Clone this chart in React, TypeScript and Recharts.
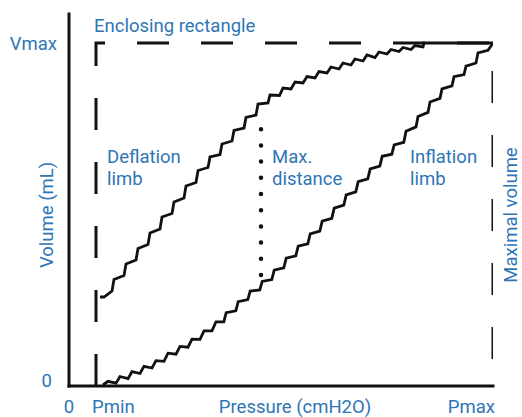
import React from "react";
import { ComposedChart, Line, XAxis, YAxis } from "recharts";

// pressure / volume in plot units (Pmin, Pmax and Vmax are symbolic)
const P_MIN = 27;
const P_MAX = 424;
const V_MAX = 343;
const V_TOP = 372;

const xTicks = [0, P_MIN, P_MAX];
const xTickLabels = ["0", "Pmin", "Pmax"];
const yTicks = [0, V_MAX];
const yTickLabels = ["0", "Vmax"];

// enclosing rectangle (left side, top, right side)
const rectP = [P_MIN, P_MIN, P_MAX, P_MAX];
const rectV = [0, V_MAX, V_MAX, 0];

// deflation limb, read point by point (jagged trace)
const deflationP = [31, 35, 43, 45, 55, 57, 67, 69, 79, 81, 91, 93, 103, 105, 115, 117, 127, 129, 139, 141, 151, 153, 163, 165, 175, 177, 187, 189, 199, 201, 210.5, 214, 222, 226, 234, 238, 246, 250, 258, 262, 270, 274, 282, 286, 294, 298, 306, 310, 318, 322, 330, 334, 342, 346, 354, 355, 424];
const deflationV = [89, 89, 95, 106.5, 110.5, 122, 126, 137.5, 141.5, 153, 157, 169, 172.5, 184, 188, 200, 203.5, 215.5, 218.5, 229, 231.5, 242, 245, 255.5, 258, 268.5, 271, 282, 283, 291, 290.5, 298, 297, 304, 303, 309.5, 308, 314.5, 313, 319, 317, 323, 321, 327, 325, 331, 328.5, 334, 332, 336.5, 334.5, 338.5, 336.5, 340.5, 339, 343, 343];

// inflation limb
const inflationP = [34, 39, 47, 51, 59, 63, 71, 75, 83, 87, 95, 99, 107, 111, 119, 123, 131, 135, 143, 147, 154.8, 157.2, 166.8, 169.2, 178.8, 181.2, 190.8, 193.2, 202.8, 205.2, 214.8, 217.2, 226.8, 229.2, 238.8, 241.2, 250.8, 253.2, 262.8, 265.2, 274.8, 277.2, 286.8, 289.2, 298.8, 301.2, 310.8, 313.2, 322.8, 325.2, 334.8, 337, 347, 349, 359, 361, 371, 373, 383, 385, 395, 397, 407, 409, 419, 424];
const inflationV = [1, 4.7, 2.8, 9.5, 7.4, 14.3, 12.5, 19.6, 18, 25.4, 24.7, 32.8, 31.8, 39.6, 38.8, 46.9, 46.6, 55.1, 55.2, 64.2, 64.2, 73.3, 75.2, 84.4, 86.4, 94.9, 96, 104.6, 106.5, 115.8, 118.2, 127.8, 130.2, 139.8, 142.2, 152.1, 154.8, 164.8, 167.7, 177.9, 180.9, 191.1, 194.1, 204.3, 207.2, 217.1, 219.8, 229.7, 231.8, 241, 243.7, 254.7, 259.1, 269.6, 273.6, 284, 287.6, 297.1, 300.1, 309.4, 311.4, 319.9, 323, 333.2, 335.7, 343];

// dotted "max distance" segment
const maxDistP = [192, 192];
const maxDistV = [111, 273];

const BLUE = "#2e75b6";
const INK = "#111";
const FONT = "Roboto, 'Noto Sans', sans-serif";
const FS = 18.5;
const BOTTOM = 413;

const toRows = (ps: number[], vs: number[]) =>
  ps.map((p, i) => ({ p, v: vs[i] }));

const rectData = toRows(rectP, rectV);
const deflationData = toRows(deflationP, deflationV);
const inflationData = toRows(inflationP, inflationV);
const maxDistData = toRows(maxDistP, maxDistV);

const XTick = ({ x, payload }: any) => {
  const i = xTicks.indexOf(payload.value);
  const anchor = i === 0 ? "middle" : i === 1 ? "start" : "end";
  const dx = i === 1 ? -4 : i === 2 ? 2 : 0;
  return (
    <text x={x + dx} y={BOTTOM} textAnchor={anchor} fill={BLUE} fontSize={FS} fontFamily={FONT}>
      {xTickLabels[i]}
    </text>
  );
};

const YTick = ({ y, payload }: any) => {
  const i = yTicks.indexOf(payload.value);
  const tx = i === 0 ? 52 : 57;
  const dy = i === 0 ? 1 : 7;
  return (
    <text x={tx} y={y + dy} textAnchor="end" fill={BLUE} fontSize={FS} fontFamily={FONT}>
      {yTickLabels[i]}
    </text>
  );
};

const label = (x: number, y: number, s: string, extra: any = {}) => (
  <text x={x} y={y} fill={BLUE} fontSize={FS} fontFamily={FONT} {...extra}>
    {s}
  </text>
);

export default function App() {
  return (
    <div style={{ position: "absolute", left: 0, top: 0, width: 522, height: 417, background: "#fff" }}>
      <ComposedChart
        width={522}
        height={417}
        margin={{ top: 14, right: 29, bottom: 1, left: 9 }}
      >
        <XAxis
          type="number"
          dataKey="p"
          domain={[0, P_MAX]}
          ticks={xTicks}
          allowDataOverflow
          height={30}
          tickLine={false}
          axisLine={{ stroke: INK, strokeWidth: 3, strokeLinecap: "square" }}
          tick={<XTick />}
          interval={0}
        />
        <YAxis
          type="number"
          dataKey="v"
          domain={[0, V_TOP]}
          ticks={yTicks}
          allowDataOverflow
          width={60}
          tickLine={false}
          axisLine={{ stroke: INK, strokeWidth: 3, strokeLinecap: "square" }}
          tick={<YTick />}
          interval={0}
        />
        <Line
          data={rectData}
          dataKey="v"
          type="linear"
          stroke={INK}
          strokeWidth={3}
          strokeDasharray="32 32"
          dot={false}
          activeDot={false}
          isAnimationActive={false}
        />
        <Line
          data={maxDistData}
          dataKey="v"
          type="linear"
          stroke={INK}
          strokeWidth={4.5}
          strokeLinecap="round"
          strokeDasharray="0 16.2"
          dot={false}
          activeDot={false}
          isAnimationActive={false}
        />
        <Line
          data={deflationData}
          dataKey="v"
          type="linear"
          stroke={INK}
          strokeWidth={2.8}
          strokeLinejoin="miter"
          dot={false}
          activeDot={false}
          isAnimationActive={false}
        />
        <Line
          data={inflationData}
          dataKey="v"
          type="linear"
          stroke={INK}
          strokeWidth={2.8}
          strokeLinejoin="miter"
          dot={false}
          activeDot={false}
          isAnimationActive={false}
        />
        {label(94, 32, "Enclosing rectangle")}
        {label(107, 163, "Deflation")}
        {label(107, 185, "limb")}
        {label(272, 163, "Max.")}
        {label(272, 185, "distance")}
        {label(410, 163, "Inflation")}
        {label(410, 185, "limb")}
        {label(295, BOTTOM, "Pressure (cmH2O)", { textAnchor: "middle" })}
        {label(53, 215, "Volume (mL)", { textAnchor: "middle", transform: "rotate(-90 53 215)" })}
        {label(517, 215, "Maximal volume", { textAnchor: "middle", transform: "rotate(-90 517 215)" })}
      </ComposedChart>
    </div>
  );
}
